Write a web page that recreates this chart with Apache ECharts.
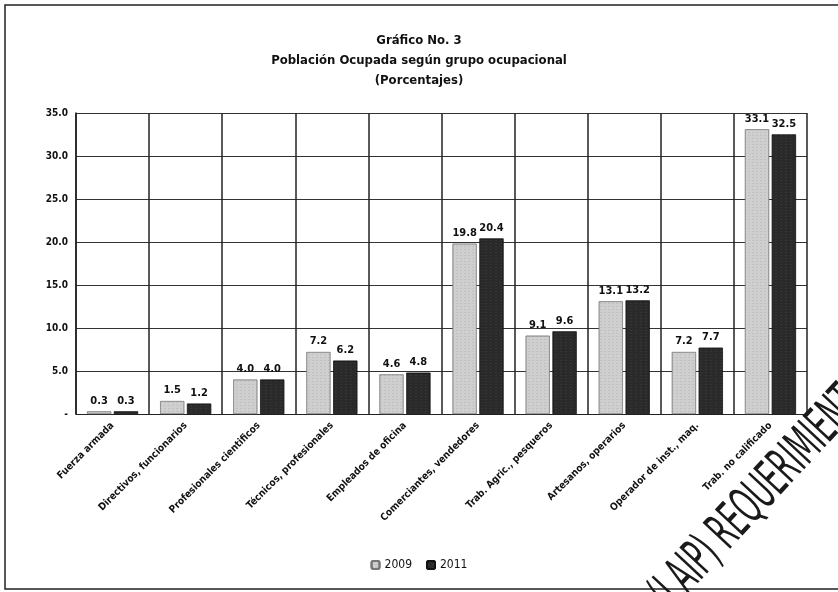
<!DOCTYPE html>
<html>
<head>
<meta charset="utf-8">
<script src="https://cdn.jsdelivr.net/npm/echarts@6/dist/echarts.min.js"></script>
<style>
  html, body { margin: 0; padding: 0; background: #fff; }
  #chart { width: 838px; height: 592px; }
</style>
</head>
<body>
<div id="chart"></div>
<script>
const categories = [
  "Fuerza armada",
  "Directivos, funcionarios",
  "Profesionales cientificos",
  "Técnicos, profesionales",
  "Empleados de oficina",
  "Comerciantes, vendedores",
  "Trab. Agric., pesqueros",
  "Artesanos, operarios",
  "Operador de inst., maq.",
  "Trab. no calificado"
];
const values2009 = [0.3, 1.5, 4.0, 7.2, 4.6, 19.8, 9.1, 13.1, 7.2, 33.1];
const values2011 = [0.3, 1.2, 4.0, 6.2, 4.8, 20.4, 9.6, 13.2, 7.7, 32.5];

const font = "'DejaVu Sans Condensed', 'Open Sans', sans-serif";

const chart = echarts.init(document.getElementById("chart"));
chart.setOption({
  backgroundColor: "#fff",
  animation: false,
  title: {
    text: "Gráfico No. 3\nPoblación Ocupada según grupo ocupacional\n(Porcentajes)",
    left: "center",
    top: 26,
    textStyle: { fontFamily: font, fontSize: 13, fontWeight: "bold", color: "#111", lineHeight: 20 }
  },
  legend: {
    bottom: 16,
    left: "center",
    itemWidth: 8,
    itemHeight: 8,
    itemGap: 14,
    textStyle: { fontFamily: font, fontSize: 12, color: "#111" },
    data: ["2009", "2011"]
  },
  grid: { left: 76, right: 31, top: 113, bottom: 178 },
  xAxis: {
    type: "category",
    data: categories,
    axisLine: { lineStyle: { color: "#222" } },
    axisTick: { show: false },
    splitLine: { show: true, interval: 0, lineStyle: { color: "#222", width: 1.5 } },
    axisLabel: {
      interval: 0,
      rotate: 45,
      fontFamily: font,
      fontSize: 10,
      fontWeight: "bold",
      color: "#111",
      margin: 10
    }
  },
  yAxis: {
    type: "value",
    min: 0,
    max: 35,
    interval: 5,
    axisLine: { show: true, lineStyle: { color: "#222", width: 1.5 } },
    axisTick: { show: false },
    splitLine: { lineStyle: { color: "#333", width: 1 } },
    axisLabel: {
      fontFamily: font,
      fontSize: 10,
      fontWeight: "bold",
      color: "#111",
      formatter: v => (v === 0 ? "-" : v.toFixed(1))
    }
  },
  series: [
    {
      name: "2009",
      type: "bar",
      data: values2009,
      barWidth: 24,
      barGap: "12%",
      itemStyle: {
        color: "#cfcfcf",
        borderColor: "#777",
        borderWidth: 0.5,
        decal: { symbol: "rect", symbolSize: 0.4, dashArrayX: [2, 2], dashArrayY: [1, 2], color: "rgba(80,80,80,0.5)", rotation: 0 }
      },
      label: {
        show: true,
        position: "top",
        fontFamily: font,
        fontSize: 11,
        fontWeight: "bold",
        color: "#111",
        formatter: p => p.value.toFixed(1)
      }
    },
    {
      name: "2011",
      type: "bar",
      data: values2011,
      barWidth: 24,
      itemStyle: {
        color: "#2a2a2a",
        borderColor: "#111",
        borderWidth: 0.5,
        decal: { symbol: "rect", symbolSize: 0.4, dashArrayX: [2, 3], dashArrayY: [1, 2], color: "rgba(190,190,190,0.4)", rotation: 0 }
      },
      label: {
        show: true,
        position: "top",
        fontFamily: font,
        fontSize: 11,
        fontWeight: "bold",
        color: "#111",
        formatter: p => p.value.toFixed(1)
      }
    }
  ],
  graphic: [
    {
      type: "rect",
      shape: { x: 5, y: 5, width: 840, height: 584 },
      style: { fill: "none", stroke: "#222", lineWidth: 1.5 },
      silent: true
    },
    {
      type: "text",
      x: 662,
      y: 640,
      rotation: 47 * Math.PI / 180,
      scaleX: 0.5,
      style: {
        text: "A (LAIP) REQUERIMIENTO",
        fontFamily: "'DejaVu Sans', sans-serif",
        fontSize: 52,
        verticalAlign: "bottom",
        fill: "#1a1a1a"
      },
      silent: true,
      z: 100
    }
  ]
});
</script>
</body>
</html>
